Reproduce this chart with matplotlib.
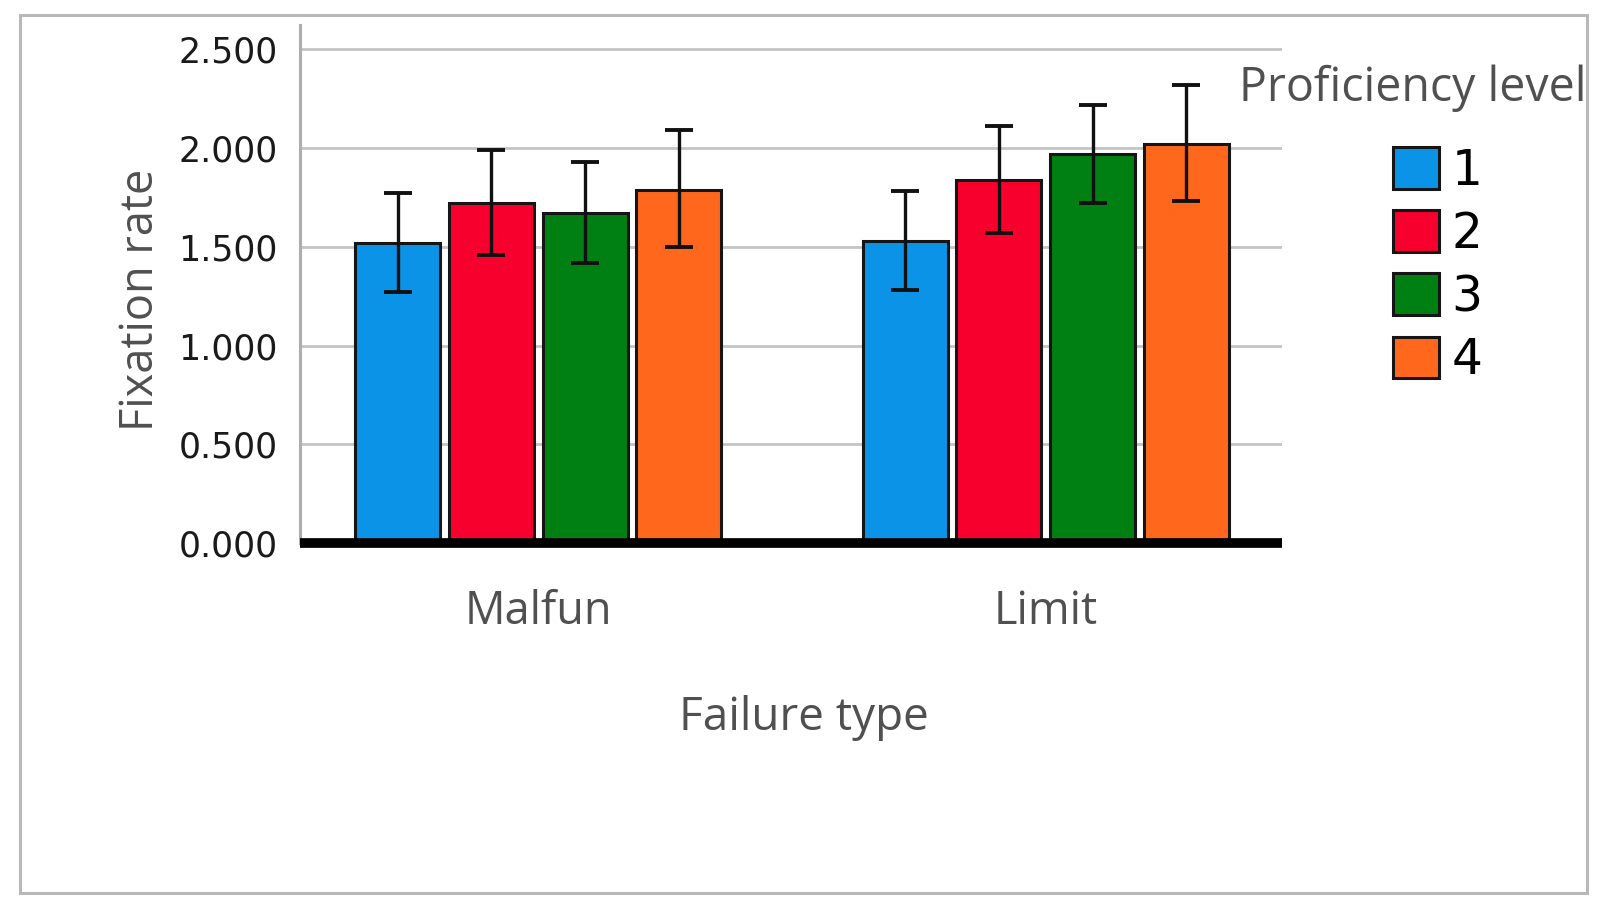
import matplotlib
matplotlib.use("Agg")
import matplotlib.pyplot as plt
import matplotlib.patches as mpatches
from matplotlib.ticker import FormatStrFormatter
import numpy as np

# ---- data ----
categories = ["Malfun", "Limit"]
levels = ["1", "2", "3", "4"]
colors = ["#0B93E8", "#F8002E", "#007F12", "#FF681C"]
# mean fixation rate per level, one value per category
mean_level1 = [1.52, 1.53]
mean_level2 = [1.72, 1.84]
mean_level3 = [1.67, 1.97]
mean_level4 = [1.79, 2.02]
# error bar bounds
low_level1 = [1.27, 1.28]
high_level1 = [1.77, 1.78]
low_level2 = [1.46, 1.57]
high_level2 = [1.99, 2.11]
low_level3 = [1.42, 1.72]
high_level3 = [1.93, 2.22]
low_level4 = [1.50, 1.73]
high_level4 = [2.09, 2.32]
yticks = [0.0, 0.5, 1.0, 1.5, 2.0, 2.5]

means = [mean_level1, mean_level2, mean_level3, mean_level4]
lows = [low_level1, low_level2, low_level3, low_level4]
highs = [high_level1, high_level2, high_level3, high_level4]

W, H = 1606, 915
fig = plt.figure(figsize=(W / 100, H / 100), dpi=100)
ax = fig.add_axes([300 / W, (H - 543) / H, 982 / W, 518 / H])

x = np.arange(len(categories))
step = 0.1848
width = 0.1675
for i in range(len(levels)):
    pos = x + (i - 1.5) * step
    m = np.array(means[i])
    lo = m - np.array(lows[i])
    hi = np.array(highs[i]) - m
    ax.bar(pos, m, width, color=colors[i], edgecolor="#151515", linewidth=2.2,
           label=levels[i], zorder=3)
    ax.errorbar(pos, m, yerr=[lo, hi], fmt="none", ecolor="#111111",
                elinewidth=2.4, capsize=10, capthick=2.8, zorder=4)

ax.set_xlim(-0.4696, 1.4654)
ax.set_ylim(0, 2.623)
ax.set_yticks(yticks)
ax.yaxis.set_major_formatter(FormatStrFormatter("%.3f"))
ax.set_xticks(x)
ax.set_xticklabels(categories, family="Open Sans", fontsize=32.5, color="#505050")
ax.tick_params(axis="x", length=0, pad=33)
ax.tick_params(axis="y", length=0, pad=16, labelsize=25, labelcolor="#1a1a1a")
for lab in ax.get_yticklabels():
    lab.set_family("DejaVu Sans")

ax.grid(axis="y", color="#c4c4c4", linewidth=2.0, zorder=0)
ax.set_axisbelow(True)
for s in ["top", "right"]:
    ax.spines[s].set_visible(False)
ax.spines["left"].set_color("#adadad")
ax.spines["left"].set_linewidth(2.2)
ax.spines["bottom"].set_color("#000000")
ax.spines["bottom"].set_linewidth(7)
ax.spines["bottom"].set_capstyle("butt")
ax.spines["bottom"].set_zorder(5)

ax.set_xlabel("Failure type", family="Open Sans", fontsize=33, color="#505050", va="center")
ax.xaxis.set_label_coords((804 - 300) / 982, (543 - 718) / 518)
ax.set_ylabel("Fixation rate", family="Open Sans", fontsize=32.5, color="#505050", va="center")
ax.yaxis.set_label_coords((141 - 300) / 982, (543 - 300) / 518)

fig.text(1239 / W, (H - 88) / H, "Proficiency level", family="Open Sans", fontsize=33.5,
         color="#505050", ha="left", va="center")
leg = ax.legend(loc="upper left", bbox_to_anchor=(1393 / W, (H - 147) / H),
                bbox_transform=fig.transFigure, frameon=False, borderpad=0,
                borderaxespad=0, fontsize=35, handlelength=0.95, handleheight=0.95,
                handletextpad=0.25, labelspacing=0.31)
for t in leg.get_texts():
    t.set_family("DejaVu Sans")

fig.patches.append(mpatches.Rectangle((20 / W, (H - 893) / H), 1567 / W, 878 / H,
                                      transform=fig.transFigure, fill=False,
                                      edgecolor="#b8b8b8", linewidth=2.2))

fig.savefig("out.png", dpi=100)
